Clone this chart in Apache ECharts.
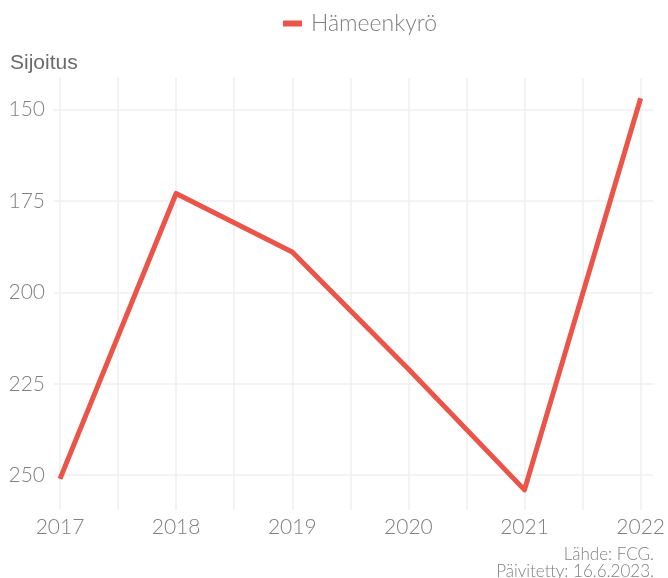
<!DOCTYPE html>
<html>
<head>
<meta charset="utf-8">
<script src="https://cdn.jsdelivr.net/npm/echarts@6/dist/echarts.min.js"></script>
<style>
  html, body { margin: 0; padding: 0; background: #fff; }
  #chart { width: 668px; height: 578px; }
</style>
</head>
<body>
<div id="chart"></div>
<script>
// Municipality ranking by year (lower number = better rank)
const seriesName = 'Hämeenkyrö';
const years = [2017, 2018, 2019, 2020, 2021, 2022];
const ranks = [251, 173, 189, 221, 254, 147];

// Axis ticks and grid lines
const yTicks = [150, 175, 200, 225, 250];
const xGridLines = [2017, 2017.5, 2018, 2018.5, 2019, 2019.5, 2020, 2020.5, 2021, 2021.5, 2022];

const yAxisTitle = 'Sijoitus';
const sourceText = 'Lähde: FCG.';
const updatedText = 'Päivitetty: 16.6.2023.';

const lineColor = '#eb5449';
const textColor = '#808080';
const gridColor = '#efefef';
const font = 'Lato, "Open Sans", sans-serif';

const chart = echarts.init(document.getElementById('chart'), null, { renderer: 'canvas' });

chart.setOption({
  animation: false,
  backgroundColor: '#ffffff',
  title: {
    text: yAxisTitle,
    left: 5,
    top: 48,
    textStyle: { fontFamily: 'Liberation Sans, Arial, sans-serif', fontSize: 21, fontWeight: 'normal', color: '#6a6a6a' }
  },
  legend: {
    data: [seriesName],
    top: 7,
    left: 278,
    itemWidth: 19,
    itemHeight: 6,
    itemGap: 10,
    icon: 'rect',
    textStyle: { fontFamily: font, fontWeight: 300, fontSize: 23, color: textColor, padding: [0, 0, 0, 4] }
  },
  grid: { left: 54, right: 14, top: 78, bottom: 68, containLabel: false },
  xAxis: {
    type: 'value',
    min: 2016.9484,
    max: 2022.1075,
    axisLine: { show: false },
    axisTick: { show: false },
    splitLine: { show: false },
    axisLabel: {
      customValues: years,
      margin: 7,
      color: textColor,
      fontFamily: font,
      fontWeight: 300,
      fontSize: 21,
      formatter: v => String(Math.round(v))
    }
  },
  yAxis: {
    type: 'value',
    inverse: true,
    min: 141.45,
    max: 259.5,
    axisLine: { show: false },
    axisTick: { show: false },
    splitLine: { show: false },
    axisLabel: {
      customValues: yTicks,
      margin: 9,
      color: textColor,
      fontFamily: font,
      fontWeight: 300,
      fontSize: 21,
      formatter: v => String(Math.round(v))
    }
  },
  graphic: [
    {
      type: 'text', right: 14, top: 546,
      style: { text: sourceText, fill: textColor, font: '300 17px ' + font, textAlign: 'right' }
    },
    {
      type: 'text', right: 14, top: 563,
      style: { text: updatedText, fill: textColor, font: '300 17px ' + font, textAlign: 'right' }
    }
  ],
  series: [
    {
      // background grid drawn as mark lines
      name: 'grid',
      type: 'line',
      data: [],
      z: 0,
      silent: true,
      markLine: {
        silent: true,
        z: 0,
        symbol: ['none', 'none'],
        label: { show: false },
        lineStyle: { color: gridColor, width: 1.5, type: 'solid' },
        data: [
          ...xGridLines.map(v => ({ xAxis: v })),
          ...yTicks.map(v => ({ yAxis: v }))
        ]
      }
    },
    {
      name: seriesName,
      type: 'line',
      z: 5,
      data: years.map((y, i) => [y, ranks[i]]),
      showSymbol: false,
      symbol: 'none',
      color: lineColor,
      lineStyle: { color: lineColor, width: 5, join: 'round', cap: 'butt' }
    }
  ]
});
</script>
</body>
</html>
